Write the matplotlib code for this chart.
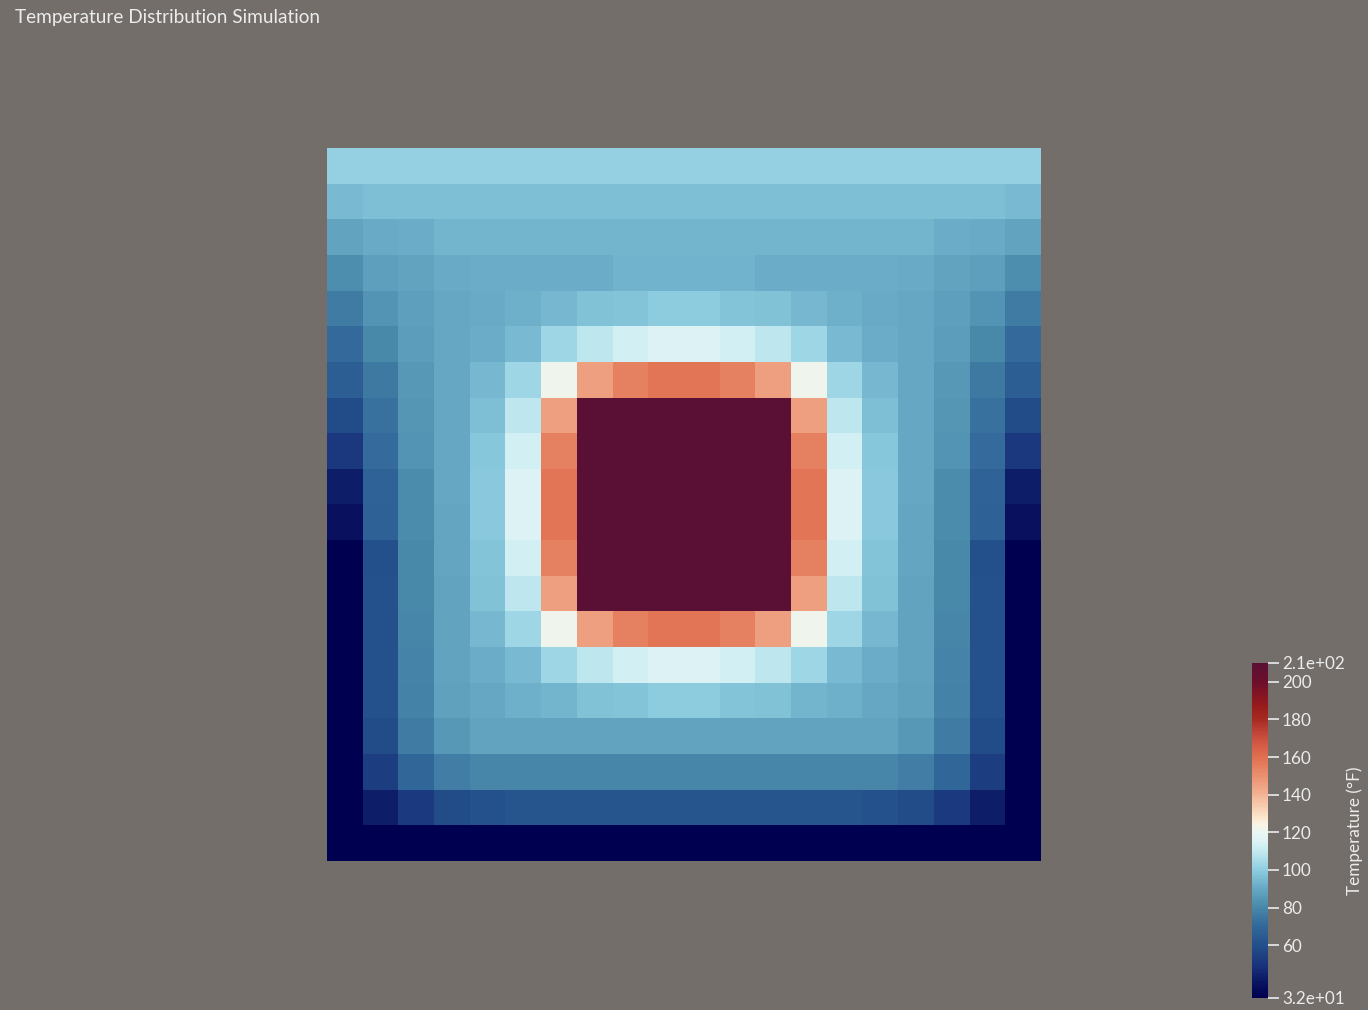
import numpy as np
import matplotlib
matplotlib.use('Agg')
import matplotlib.pyplot as plt
from matplotlib.colors import LinearSegmentedColormap


# Temperature values (°F), 20 x 20 cells, first row = top of the plate
row_00 = [101.5, 101.5, 101.5, 101.5, 101.5, 101.5, 101.5, 101.5, 101.5, 101.5, 101.5, 101.5, 101.5, 101.5, 101.5, 101.5, 101.5, 101.5, 101.5, 101.5]
row_01 = [95, 96, 96, 96.5, 96.5, 96.5, 96.5, 96.5, 96.5, 96.5, 96.5, 96.5, 96.5, 96.5, 96.5, 96.5, 96.5, 96, 96, 95]
row_02 = [88.5, 90.5, 91.5, 93.5, 93.5, 93.5, 93.5, 93.5, 93.5, 93.5, 93.5, 93.5, 93.5, 93.5, 93.5, 93.5, 93.5, 91.5, 90.5, 88.5]
row_03 = [81.5, 87.5, 89, 91, 91.5, 91.5, 91.5, 91.5, 93, 93, 93, 93, 91.5, 91.5, 91.5, 91.5, 91, 89, 87.5, 81.5]
row_04 = [76, 83.5, 87, 90, 90.5, 92, 94, 97, 98, 100, 100, 98, 97, 94, 92, 90.5, 90, 87, 83.5, 76]
row_05 = [70.5, 80, 86.5, 90, 91.5, 95, 103, 109, 113, 115, 115, 113, 109, 103, 95, 91.5, 90, 86.5, 80, 70.5]
row_06 = [66, 75.5, 85, 90, 94, 103, 121, 146, 155, 158, 158, 155, 146, 121, 103, 94, 90, 85, 75.5, 66]
row_07 = [59, 73, 84.5, 90, 96.5, 109, 146, 210, 210, 210, 210, 210, 210, 146, 109, 96.5, 90, 84.5, 73, 59]
row_08 = [51, 71, 84, 90, 98.5, 113, 155, 210, 210, 210, 210, 210, 210, 155, 113, 98.5, 90, 84, 71, 51]
row_09 = [43, 68, 81, 90, 99, 115, 158, 210, 210, 210, 210, 210, 210, 158, 115, 99, 90, 81, 68, 43]
row_10 = [39, 67, 81, 89.5, 99, 115, 158, 210, 210, 210, 210, 210, 210, 158, 115, 99, 89.5, 81, 67, 39]
row_11 = [32, 60.5, 80, 89.5, 98, 113, 155, 210, 210, 210, 210, 210, 210, 155, 113, 98, 89.5, 80, 60.5, 32]
row_12 = [32, 61, 80, 89, 97, 109, 146, 210, 210, 210, 210, 210, 210, 146, 109, 97, 89, 80, 61, 32]
row_13 = [32, 61, 79.5, 88.5, 94, 103, 121, 146, 155, 158, 158, 155, 146, 121, 103, 94, 88.5, 79.5, 61, 32]
row_14 = [32, 61, 79, 88.5, 91.5, 95, 103, 109, 113, 115, 115, 113, 109, 103, 95, 91.5, 88.5, 79, 61, 32]
row_15 = [32, 61, 78.5, 88, 90, 92, 93.5, 97, 98, 100, 100, 98, 97, 93.5, 92, 90, 88, 78.5, 61, 32]
row_16 = [32, 59, 76, 85.5, 88.5, 89, 89, 89, 89, 89, 89, 89, 89, 89, 89, 88.5, 85.5, 76, 59, 32]
row_17 = [32, 53, 69, 77, 79.5, 79.5, 79.5, 79.5, 79.5, 79.5, 79.5, 79.5, 79.5, 79.5, 79.5, 79.5, 77, 69, 53, 32]
row_18 = [32, 43, 52, 59, 61, 62, 62, 62, 62, 62, 62, 62, 62, 62, 62, 61, 59, 52, 43, 32]
row_19 = [32, 32, 32, 32, 32, 32, 32, 32, 32, 32, 32, 32, 32, 32, 32, 32, 32, 32, 32, 32]

t_min = 32
t_max = 210
tick_values = [32, 60, 80, 100, 120, 140, 160, 180, 200, 210]
tick_labels = ['3.2e+01', '60', '80', '100', '120', '140', '160', '180', '200', '2.1e+02']

# Colour map (temperature -> colour)
cmap_temps = [32, 40, 48, 60, 70, 80, 90, 100, 110, 116, 120, 124, 128, 140, 150, 160, 170, 180, 188, 200, 210]
cmap_colors = ['#000050', '#0a1460', '#18307a', '#23508a', '#33689a', '#4888aa', '#66a8c4',
               '#8ecde0', '#c4eaf0', '#e0f4f6', '#eaf6f0', '#f8f4e6', '#fbe6cc', '#f2b494',
               '#ea9070', '#e07050', '#cc5040', '#a82a22', '#961a1c', '#6e0f2c', '#5a1035']

BG = '#736e6a'
TXT = '#ececec'

grid = np.array([row_00, row_01, row_02, row_03, row_04, row_05, row_06, row_07, row_08, row_09,
                 row_10, row_11, row_12, row_13, row_14, row_15, row_16, row_17, row_18, row_19])

stops = [(t - t_min) / (t_max - t_min) for t in cmap_temps]
cmap = LinearSegmentedColormap.from_list('temp', list(zip(stops, cmap_colors)))

fig = plt.figure(figsize=(13.68, 10.10), dpi=100, facecolor=BG)

# Main heat map
ax = fig.add_axes([0.2390, 0.1475, 0.5219, 0.7060])
mesh = ax.pcolormesh(grid, cmap=cmap, vmin=t_min, vmax=t_max)
ax.invert_yaxis()
ax.set_axis_off()

fig.text(0.011, 0.991, 'Temperature Distribution Simulation', color=TXT,
         fontsize=13.7, ha='left', va='top', family='Lato')

# Colour bar
cax = fig.add_axes([0.9152, 0.0119, 0.0117, 0.3317])
cb = fig.colorbar(mesh, cax=cax)
cb.outline.set_visible(False)
cb.set_ticks(tick_values)
cb.set_ticklabels(tick_labels)
cax.tick_params(axis='y', colors=TXT, length=8, width=1.2, labelsize=12.3, pad=2)
for lab in cax.get_yticklabels():
    lab.set_family('Lato')
cb.set_label('Temperature (°F)', color=TXT, fontsize=12.3, family='Lato')
cax.yaxis.set_label_coords(5.9, 0.5)

fig.savefig('out.png', dpi=100, facecolor=BG)
